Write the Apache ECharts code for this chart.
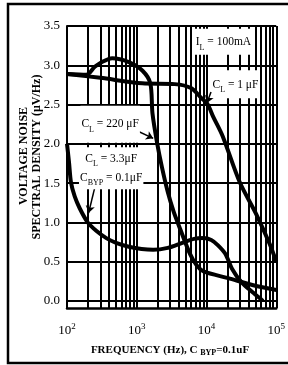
<!DOCTYPE html>
<html>
<head>
<meta charset="utf-8">
<script src="https://cdn.jsdelivr.net/npm/echarts@6/dist/echarts.min.js"></script>
<style>
  html, body { margin: 0; padding: 0; background: #fff; }
  #chart { width: 288px; height: 365px; }
</style>
</head>
<body>
<div id="chart"></div>
<script>
// axis ticks
const xLabelValues = [100, 1000, 10000, 100000];
const xGridValues = [100, 200, 300, 400, 500, 600, 700, 800, 900,
  1000, 2000, 3000, 4000, 5000, 6000, 7000, 8000, 9000,
  10000, 20000, 30000, 40000, 50000, 60000, 70000, 80000, 90000, 100000];
const yTickValues = [0, 0.5, 1, 1.5, 2, 2.5, 3, 3.5];

// C_L = 1 uF
const freqA = [100, 300, 1200, 3500, 6000, 8500, 10300, 12400, 17000, 30000, 52000, 80000, 100000];
const noiseA = [2.89, 2.84, 2.77, 2.76, 2.71, 2.58, 2.51, 2.35, 2.1, 1.51, 1.1, 0.73, 0.5];

// C_L = 220 uF
const freqB = [100, 190, 250, 300, 445, 770, 1210, 1565, 1680, 1960, 2300, 2780, 3370, 4220, 5800, 7270, 9080, 20500, 47000, 100000];
const noiseB = [2.89, 2.88, 2.98, 3.03, 3.09, 3.04, 2.93, 2.77, 2.39, 2.01, 1.7, 1.39, 1.14, 0.91, 0.6, 0.45, 0.375, 0.29, 0.2, 0.14];

// C_L = 3.3 uF, C_BYP = 0.1 uF
const freqC = [100, 107, 114, 129, 152, 198, 265, 366, 506, 771, 1174, 1720, 2780, 4500, 6600, 9080, 11700, 14500, 18600, 23200, 31600, 47400, 64600];
const noiseC = [2.0, 1.76, 1.51, 1.33, 1.18, 1.0, 0.89, 0.8, 0.74, 0.69, 0.66, 0.65, 0.675, 0.74, 0.79, 0.8, 0.775, 0.71, 0.6, 0.41, 0.24, 0.1, 0.0];

// annotations
const noteTexts = [
  '{n|I}{s|L}{n| = 100mA}',
  '{n|C}{s|L}{n| = 1 μF}',
  '{n|C}{s|L}{n| = 220 μF}',
  '{n|C}{s|L}{n| = 3.3μF}\n{n|C}{s|BYP}{n| = 0.1μF}'
];
const notePos = [[17500, 3.3], [26000, 2.76], [416, 2.25], [430, 1.69]];
const notePad = [[4, 3, 3, 3], [5, 0, 4, 0], [9, 1, 9, 1], [2, 1, 2, 1]];
const arrowFrom = [[11600, 2.66], [990, 2.17], [248, 1.43]];
const arrowTo = [[10150, 2.52], [1720, 2.07], [204, 1.12]];

const FONT = 'Liberation Serif';

function pairs(xs, ys) {
  return xs.map((x, i) => [x, ys[i]]);
}

const chart = echarts.init(document.getElementById('chart'));

const noteRich = {
  n: { fontFamily: FONT, fontSize: 11.5, color: '#000', lineHeight: 19 },
  s: { fontFamily: FONT, fontSize: 8, color: '#000', lineHeight: 9, verticalAlign: 'bottom' }
};

const curveStyle = { color: '#000', width: 4 };

const option = {
  animation: false,
  backgroundColor: '#fff',
  grid: { left: 67, right: 3, top: 26, bottom: 57 },
  xAxis: {
    type: 'log',
    logBase: 10,
    min: 100,
    max: 100000,
    axisLine: { show: true, onZero: false, lineStyle: { color: '#000', width: 2.5 } },
    axisTick: { show: false, customValues: xGridValues },
    splitLine: { show: true, lineStyle: { color: '#000', width: 2 } },
    axisLabel: {
      customValues: xLabelValues,
      margin: 14,
      formatter: v => '{b|10}{p|' + Math.round(Math.log10(v)) + '}',
      rich: {
        b: { fontFamily: FONT, fontSize: 13, color: '#000', lineHeight: 18 },
        p: { fontFamily: FONT, fontSize: 9, color: '#000', lineHeight: 10, verticalAlign: 'top' }
      }
    }
  },
  yAxis: {
    type: 'value',
    min: -0.09,
    max: 3.5,
    axisLine: { show: true, onZero: false, lineStyle: { color: '#000', width: 2 } },
    axisTick: { show: false, customValues: yTickValues },
    splitLine: { show: true, lineStyle: { color: '#000', width: 2 } },
    axisLabel: {
      customValues: yTickValues,
      margin: 7,
      formatter: v => v.toFixed(1),
      fontFamily: FONT,
      fontSize: 13,
      color: '#000'
    }
  },
  graphic: [
    {
      type: 'rect', z: 100,
      shape: { x: 8, y: 4, width: 300, height: 359 },
      style: { fill: 'none', stroke: '#000', lineWidth: 2.5 }
    },
    {
      type: 'text', x: 24, y: 156, rotation: Math.PI / 2,
      style: { text: 'VOLTAGE NOISE', font: 'bold 12px "Liberation Serif"', fill: '#000', textAlign: 'center', textVerticalAlign: 'middle' }
    },
    {
      type: 'text', x: 37, y: 157, rotation: Math.PI / 2,
      style: { text: 'SPECTRAL DENSITY (μV/Hz)', font: 'bold 12px "Liberation Serif"', fill: '#000', textAlign: 'center', textVerticalAlign: 'middle' }
    },
    {
      type: 'text', x: 170, y: 350,
      style: {
        text: '{t|FREQUENCY (Hz), C }{s|BYP}{t|=0.1uF}',
        textAlign: 'center', textVerticalAlign: 'middle',
        rich: {
          t: { fontFamily: FONT, fontWeight: 'bold', fontSize: 11, fill: '#000', lineHeight: 14 },
          s: { fontFamily: FONT, fontWeight: 'bold', fontSize: 8, fill: '#000', lineHeight: 9, verticalAlign: 'bottom' }
        }
      }
    }
  ],
  series: [
    {
      name: 'notes',
      type: 'line',
      data: [],
      z: 1,
      silent: true,
      markPoint: {
        silent: true,
        symbol: 'circle',
        symbolSize: 1,
        itemStyle: { color: 'rgba(0,0,0,0)' },
        data: notePos.map((p, i) => ({
          coord: p,
          label: {
            show: true,
            position: 'inside',
            formatter: noteTexts[i],
            backgroundColor: '#fff',
            padding: notePad[i],
            rich: noteRich
          }
        }))
      }
    },
    {
      name: 'arrows',
      type: 'line',
      data: [],
      z: 2,
      silent: true,
      markLine: {
        silent: true,
        symbol: ['none', 'arrow'],
        symbolSize: 7,
        label: { show: false },
        lineStyle: { color: '#000', width: 1.5, type: 'solid' },
        data: arrowFrom.map((p, i) => [{ coord: p }, { coord: arrowTo[i] }])
      }
    },
    {
      name: 'CL 1uF', type: 'line', z: 3, showSymbol: false, smooth: 0.3,
      lineStyle: curveStyle, data: pairs(freqA, noiseA)
    },
    {
      name: 'CL 220uF', type: 'line', z: 3, showSymbol: false, smooth: 0.3,
      lineStyle: curveStyle, data: pairs(freqB, noiseB)
    },
    {
      name: 'CL 3.3uF', type: 'line', z: 3, showSymbol: false, smooth: 0.3,
      lineStyle: curveStyle, data: pairs(freqC, noiseC)
    }
  ]
};

chart.setOption(option);
</script>
</body>
</html>
